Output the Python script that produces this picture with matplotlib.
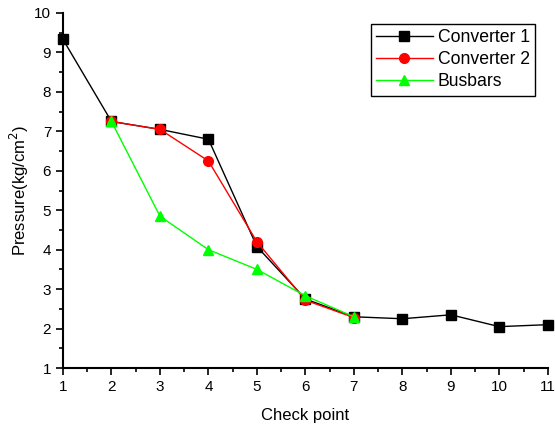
import matplotlib
matplotlib.use('Agg')
import matplotlib.pyplot as plt
from matplotlib.ticker import MultipleLocator

plt.rcParams['font.family'] = ['Liberation Sans', 'DejaVu Sans']

conv1_x = [1, 2, 3, 4, 5, 6, 7, 8, 9, 10, 11]
conv1_y = [9.33, 7.25, 7.05, 6.8, 4.08, 2.75, 2.3, 2.25, 2.35, 2.05, 2.1]
conv2_x = [2, 3, 4, 5, 6, 7]
conv2_y = [7.25, 7.05, 6.25, 4.2, 2.72, 2.28]
bus_x = [2, 3, 4, 5, 6, 7]
bus_y = [7.25, 4.85, 4.0, 3.5, 2.83, 2.3]

fig = plt.figure(figsize=(5.55, 4.26), dpi=100)
ax = fig.add_axes([0.1135, 0.136, 0.8735, 0.8335])

ax.plot(conv1_x, conv1_y, color='black', lw=1, marker='s', ms=6.5, label='Converter 1', clip_on=False)
ax.plot(conv2_x, conv2_y, color='red', lw=1, marker='o', ms=7, label='Converter 2', clip_on=False)
ax.plot(bus_x, bus_y, color='#00ff00', lw=1, marker='^', ms=7.5, label='Busbars', clip_on=False)

ax.set_xlim(1, 11)
ax.set_ylim(1, 10)
ax.xaxis.set_major_locator(MultipleLocator(1))
ax.xaxis.set_minor_locator(MultipleLocator(0.5))
ax.yaxis.set_major_locator(MultipleLocator(1))
ax.yaxis.set_minor_locator(MultipleLocator(0.5))
ax.tick_params(which='major', direction='out', length=5, width=1.2, labelsize=11)
ax.tick_params(which='minor', direction='out', length=3, width=1.2)
for s in ['top', 'right']:
    ax.spines[s].set_visible(False)
for s in ['left', 'bottom']:
    ax.spines[s].set_linewidth(1.5)

ax.set_xlabel('Check point', fontsize=12, labelpad=10)
ax.set_ylabel('Pressure(kg/cm$^2$)', fontsize=12, labelpad=2)

leg = ax.legend(loc='upper right', bbox_to_anchor=(0.985, 0.985), fontsize=12.7, fancybox=False,
                edgecolor='black', framealpha=1, handlelength=3.2, borderpad=0.3,
                labelspacing=0.3, handletextpad=0.3, borderaxespad=0.3)
leg.get_frame().set_linewidth(1)

fig.savefig('out.png', dpi=100)
